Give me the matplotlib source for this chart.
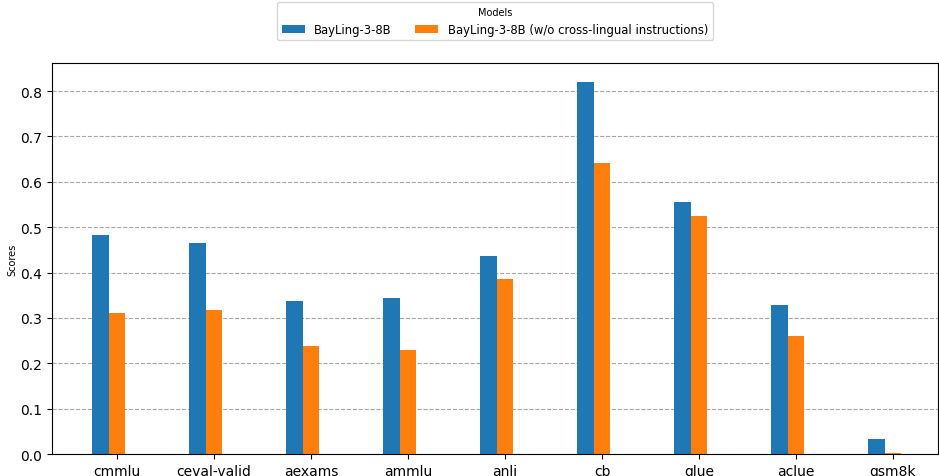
import numpy as np
import matplotlib.pyplot as plt

tasks = ["cmmlu", "ceval-valid", "aexams", "ammlu", "anli", "cb", "glue", "aclue", "gsm8k"]
bayling = [0.483, 0.466, 0.338, 0.344, 0.437, 0.821, 0.556, 0.329, 0.033]
bayling_wo = [0.311, 0.318, 0.238, 0.230, 0.386, 0.642, 0.525, 0.260, 0.002]
modelle = ["BayLing-3-8B", "BayLing-3-8B (w/o cross-lingual instructions)"]

x = np.arange(len(tasks))
w = 0.172

fig = plt.figure(figsize=(9.39, 4.77), dpi=100)
ax = fig.add_axes([0.0555, 0.046, 0.943, 0.82])
ax.bar(x - w, bayling, w, color="#1f77b4", label=modelle[0])
ax.bar(x, bayling_wo, w, color="#ff7f0e", label=modelle[1])

ax.set_xticks(x)
ax.set_xticklabels(tasks, fontsize=10)
ax.tick_params(axis="y", labelsize=10)
ax.set_xlim(-0.67, 8.46)
ax.set_ylim(0, 0.862)
ax.set_ylabel("Scores", fontsize=7, labelpad=2)
ax.yaxis.grid(True, linestyle="--", color="gray", alpha=0.7)
ax.set_axisbelow(True)
ax.legend(title="Models", loc="upper center", bbox_to_anchor=(0.5, 1.17),
          ncol=2, fontsize=8.4, title_fontsize=7)

fig.savefig("out.png", dpi=100)
